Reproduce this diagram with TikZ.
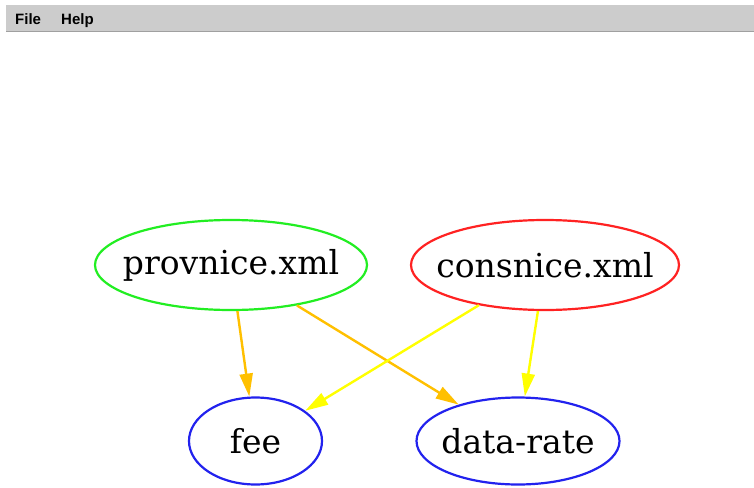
\documentclass[tikz,border=0pt]{standalone}
\usepackage{fontspec}
\setmainfont{DejaVu Serif}
\newfontfamily\menufont{Liberation Sans}
\usetikzlibrary{shapes.geometric,arrows.meta}
\definecolor{menugray}{RGB}{204,204,204}
\definecolor{menuline}{RGB}{160,160,160}
\definecolor{srcgreen}{RGB}{34,238,34}
\definecolor{srcred}{RGB}{255,34,34}
\definecolor{attrblue}{RGB}{34,34,238}
\definecolor{provedge}{RGB}{255,192,0}
\definecolor{consedge}{RGB}{255,255,0}
\tikzset{
  gnode/.style={ellipse, draw, line width=2.2pt, inner sep=0pt},
  gtext/.style={font=\fontsize{33}{33}\selectfont, inner sep=0pt},
  srcnode/.style={gnode, minimum width=272pt, minimum height=90pt},
  attrnode/.style={gnode, draw=attrblue, minimum height=87pt},
  link/.style={line width=2.4pt, -{Triangle[length=23pt,width=13pt]}},
  menuitem/.style={font=\menufont\bfseries\fontsize{15}{15}\selectfont,
    anchor=base west, inner sep=0pt}
}
\begin{document}
\begin{tikzpicture}[x=1pt,y=-1pt]
  \useasboundingbox (0,0) rectangle (754,487);
  \fill[white] (0,0) rectangle (754,487);
  % menu bar
  \fill[menugray] (6,5) rectangle (754,31);
  \draw[menuline, line width=1.5pt] (6,31.5) -- (754,31.5);
  \node[menuitem] (file) at (15,25) {File};
  \node[menuitem] (help) at (61,25) {Help};
  % graph nodes: the ellipse keeps its set size, the name sits on its centre
  \node[srcnode, draw=srcgreen, label={[gtext]center:provnice.xml}] (prov) at (231,265) {};
  \node[srcnode, draw=srcred, minimum width=268pt, label={[gtext]center:consnice.xml}] (cons) at (545,265) {};
  \node[attrnode, minimum width=133pt, label={[gtext]center:fee}] (fee) at (255.5,441) {};
  \node[attrnode, minimum width=203pt, label={[gtext]center:data-rate}] (rate) at (518,441) {};
  % edges
  \draw[link, provedge] (prov) -- (fee);
  \draw[link, provedge] (prov) -- (rate);
  \draw[link, consedge] (cons) -- (fee);
  \draw[link, consedge] (cons) -- (rate);
\end{tikzpicture}
\end{document}
